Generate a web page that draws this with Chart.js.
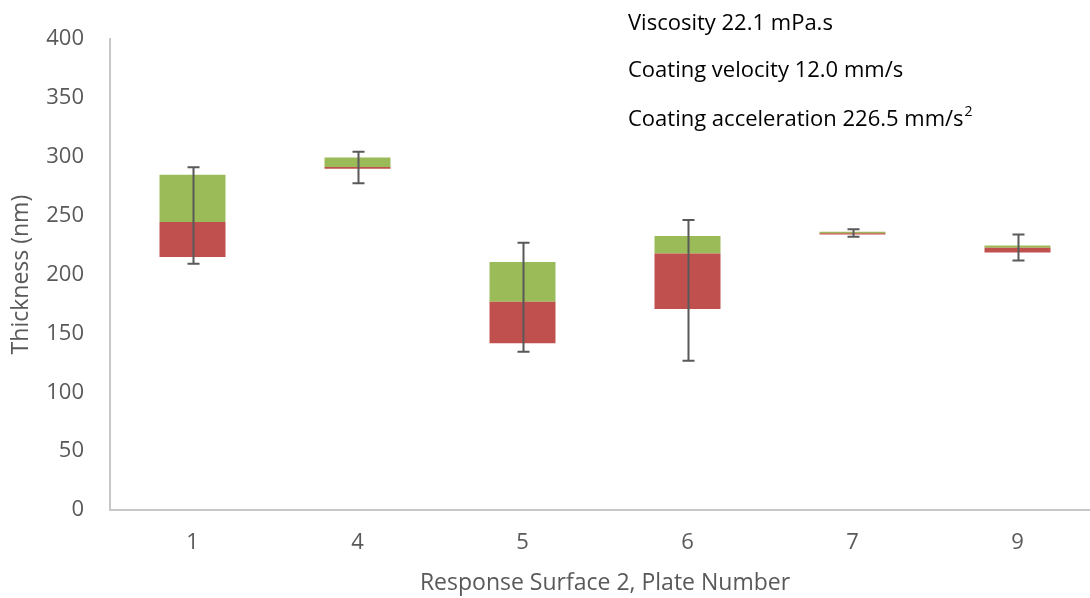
<!DOCTYPE html>
<html>
<head>
<meta charset="utf-8">
<script src="https://cdn.jsdelivr.net/npm/chart.js@4"></script>
<style>
  html, body { margin: 0; padding: 0; background: #ffffff; overflow: hidden; }
  #wrap { width: 1090px; height: 598px; position: relative; overflow: hidden; }
  #c { display: block; }
</style>
</head>
<body>
<div id="wrap"><canvas id="c" width="1100" height="598"></canvas></div>
<script>
// Plate numbers along the x axis
const plates = ['1', '4', '5', '6', '7', '9'];
// Film thickness statistics per plate (nm)
const minVals    = [209.2, 277.7, 134.5, 126.8, 232.1, 212.0];
const q1Vals     = [215.0, 290.0, 141.6, 170.7, 234.1, 218.8];
const medianVals = [244.6, 291.4, 176.9, 218.0, 235.2, 222.8];
const q3Vals     = [284.8, 299.5, 210.6, 232.7, 236.4, 224.8];
const maxVals    = [291.3, 304.3, 227.0, 246.3, 238.6, 234.1];
// Y axis ticks
const yTicks = [0, 50, 100, 150, 200, 250, 300, 350, 400];
// Process conditions shown in the upper right
const notes = ['Viscosity 22.1 mPa.s', 'Coating velocity 12.0 mm/s', 'Coating acceleration 226.5 mm/s'];

const FONT = '"Open Sans", "DejaVu Sans", sans-serif';
const AXIS_GREY = '#595959';

// Min/max whiskers drawn through the chart's own scales
const whiskerPlugin = {
  id: 'whiskers',
  afterDatasetsDraw(chart) {
    const { ctx, scales: { x, y } } = chart;
    ctx.save();
    ctx.strokeStyle = '#595959';
    ctx.lineWidth = 2;
    const cap = 6;
    plates.forEach((p, i) => {
      const cx = Math.round(x.getPixelForValue(i)) + 0.5;
      const yTop = y.getPixelForValue(maxVals[i]);
      const yBot = y.getPixelForValue(minVals[i]);
      ctx.beginPath();
      ctx.moveTo(cx, yTop); ctx.lineTo(cx, yBot);
      ctx.moveTo(cx - cap, yTop); ctx.lineTo(cx + cap, yTop);
      ctx.moveTo(cx - cap, yBot); ctx.lineTo(cx + cap, yBot);
      ctx.stroke();
    });
    ctx.restore();
  }
};

// Condition notes with a superscript on the acceleration unit
const notesPlugin = {
  id: 'notes',
  afterDraw(chart) {
    const { ctx } = chart;
    ctx.save();
    ctx.fillStyle = '#000000';
    ctx.textBaseline = 'middle';
    ctx.textAlign = 'left';
    ctx.font = '22px ' + FONT;
    const x0 = 628;
    const ys = [24, 71, 120];
    notes.forEach((t, i) => {
      ctx.fillText(t, x0, ys[i]);
    });
    const w = ctx.measureText(notes[2]).width;
    ctx.font = '14px ' + FONT;
    ctx.fillText('2', x0 + w + 1, ys[2] - 8);
    ctx.restore();
  }
};

new Chart(document.getElementById('c'), {
  type: 'bar',
  data: {
    labels: plates,
    datasets: [
      {
        label: 'base',
        data: q1Vals,
        backgroundColor: 'rgba(0,0,0,0)',
        borderWidth: 0
      },
      {
        label: 'lower',
        data: medianVals.map((m, i) => m - q1Vals[i]),
        backgroundColor: '#C0504D',
        borderWidth: 0
      },
      {
        label: 'upper',
        data: q3Vals.map((q, i) => q - medianVals[i]),
        backgroundColor: '#9BBB59',
        borderWidth: 0
      }
    ]
  },
  options: {
    responsive: false,
    animation: false,
    devicePixelRatio: 1,
    layout: { padding: { top: 39, right: 0, bottom: 0, left: 0 } },
    datasets: { bar: { barPercentage: 0.4, categoryPercentage: 1.0 } },
    plugins: {
      legend: { display: false },
      tooltip: { enabled: false },
      title: { display: false }
    },
    scales: {
      x: {
        stacked: true,
        grid: { display: false, drawTicks: false },
        border: { display: true, color: '#C8C8C8', width: 2 },
        ticks: { color: AXIS_GREY, font: { family: FONT, size: 22 }, padding: 20 },
        title: {
          display: true,
          text: 'Response Surface 2, Plate Number',
          color: AXIS_GREY,
          font: { family: FONT, size: 23 },
          padding: { top: 0, bottom: 1 }
        },
        afterFit(scale) { scale.height = 88; }
      },
      y: {
        stacked: true,
        min: 0,
        max: 400,
        afterBuildTicks(scale) { scale.ticks = yTicks.map(v => ({ value: v })); },
        grid: { display: false, drawTicks: false },
        border: { display: true, color: '#C8C8C8', width: 2 },
        ticks: { color: AXIS_GREY, font: { family: FONT, size: 22 }, padding: 26 },
        title: {
          display: true,
          text: 'Thickness (nm)',
          color: AXIS_GREY,
          font: { family: FONT, size: 23 },
          padding: { top: 8, bottom: 0 }
        },
        afterFit(scale) { scale.width = 110; }
      }
    }
  },
  plugins: [whiskerPlugin, notesPlugin]
});
</script>
</body>
</html>
